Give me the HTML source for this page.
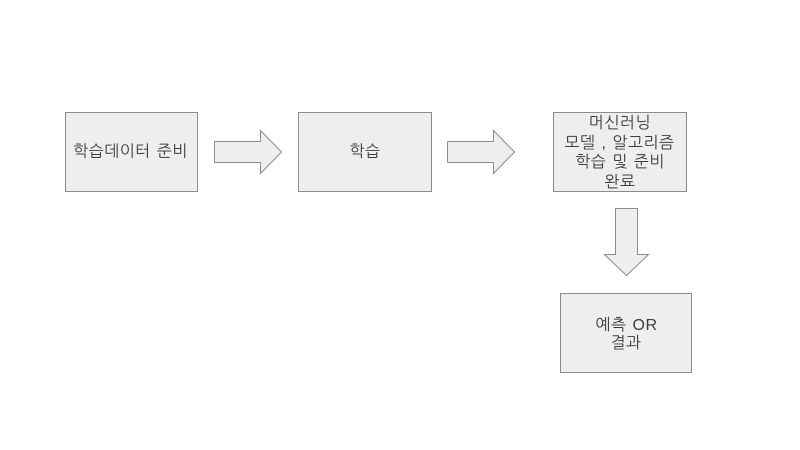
<!DOCTYPE html>
<html lang="ko">
<head>
<meta charset="utf-8">
<style>
html,body{margin:0;padding:0;background:#fff;width:800px;height:450px;overflow:hidden}
svg{display:block}
text{font-family:"Liberation Sans","NanumGothic","Noto Sans CJK KR",sans-serif;font-size:16px;letter-spacing:.5px;word-spacing:1px;fill:#3c3c3c;text-anchor:middle}
.s{fill:#eeeeee;stroke:#8c8c8c;stroke-width:1}
</style>
</head>
<body>
<svg width="800" height="450" viewBox="0 0 800 450" xmlns="http://www.w3.org/2000/svg">
<rect class="s" x="65.5" y="112.5" width="132" height="79"/>
<rect class="s" x="298.5" y="112.5" width="133" height="79"/>
<rect class="s" x="553.5" y="112.5" width="133" height="79"/>
<rect class="s" x="560.5" y="293.5" width="131" height="79"/>
<polygon class="s" points="214.5,141.5 260.5,141.5 260.5,130.5 281.5,152 260.5,173.5 260.5,162.5 214.5,162.5"/>
<polygon class="s" points="447.5,141.5 493.5,141.5 493.5,130.5 514.5,152 493.5,173.5 493.5,162.5 447.5,162.5"/>
<polygon class="s" points="615.5,208.5 637.5,208.5 637.5,254.5 648.5,254.5 626.5,275.5 604.5,254.5 615.5,254.5"/>
<text x="130.5" y="156.5">학습데이터 준비</text>
<text x="365" y="156.5">학습</text>
<text x="620" y="128">머신러닝</text>
<text x="619.5" y="148">모델 , 알고리즘</text>
<text x="620" y="167">학습 및 준비</text>
<text x="620" y="187">완료</text>
<text x="626.5" y="330">예측 OR</text>
<text x="626" y="348">결과</text>
</svg>
</body>
</html>
